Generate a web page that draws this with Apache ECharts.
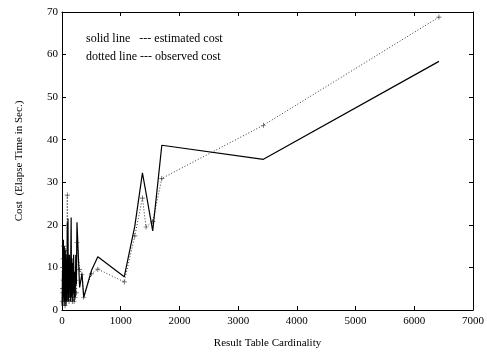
<!DOCTYPE html>
<html>
<head>
<meta charset="utf-8">
<script src="https://cdn.jsdelivr.net/npm/echarts@6/dist/echarts.min.js"></script>
<style>
  html, body { margin: 0; padding: 0; background: #fff; }
  #chart { width: 487px; height: 354px; }
</style>
</head>
<body>
<div id="chart"></div>
<script>
// result table cardinality (x), shared by both series
const cardinality = [
  3, 8, 12, 16, 20, 24, 28, 32, 36, 40, 44, 48, 52, 56, 60, 64, 68, 72, 76, 80,
  85, 90, 96, 102, 108, 114, 120, 126, 132, 138, 144, 150, 156, 162, 168, 175,
  182, 190, 198, 206, 215, 225, 235, 245, 255, 300, 340, 370, 500, 610,
  1060, 1240, 1370, 1431, 1545, 1700, 3430, 6420
];
// estimated cost (solid line)
const estimated = [
  1, 9, 2, 15, 3, 16.5, 4, 12, 1, 15, 5, 11, 2, 14, 6, 13, 1, 10, 3, 12,
  2, 20.5, 4, 21.5, 2, 9, 3, 13, 5, 11, 2, 14, 21.7, 3, 12, 2, 11, 4, 13, 2,
  9, 3, 13, 6, 20.6, 5.3, 8.5, 3.0, 9.2, 12.5,
  7.8, 19.7, 32.2, 27.5, 18.6, 38.7, 35.4, 58.4
];
// observed cost (dotted line)
const observed = [
  2, 5, 10, 4, 12, 7, 15, 3, 9, 13, 6, 11, 1, 14, 4, 10, 2, 8, 5, 12,
  3, 27, 6, 12, 3, 10, 2, 12, 5, 8, 3, 11, 12, 4, 10, 2, 6, 4, 8, 2,
  5, 3, 7, 4, 15.8, 9.5, 8.4, 3.0, 8.5, 9.6,
  6.6, 17.4, 26.3, 19.5, 20.8, 30.9, 43.4, 68.8
];
const xTicks = [0, 1000, 2000, 3000, 4000, 5000, 6000, 7000];
const yTicks = [0, 10, 20, 30, 40, 50, 60, 70];

const font = 'Liberation Serif, Times New Roman, serif';
const chart = echarts.init(document.getElementById('chart'));

const baseX = {
  type: 'value',
  min: xTicks[0],
  max: xTicks[xTicks.length - 1],
  interval: 1000,
  splitLine: { show: false },
  axisLine: { onZero: false, lineStyle: { color: '#000', width: 1 } },
  axisTick: { inside: true, length: 4, lineStyle: { color: '#000' } },
};
const baseY = {
  type: 'value',
  min: yTicks[0],
  max: yTicks[yTicks.length - 1],
  interval: 10,
  splitLine: { show: false },
  axisLine: { onZero: false, lineStyle: { color: '#000', width: 1 } },
  axisTick: { inside: true, length: 4, lineStyle: { color: '#000' } },
};

const option = {
  animation: false,
  backgroundColor: '#fff',
  grid: { left: 62, right: 14, top: 12, bottom: 43 },
  xAxis: [
    Object.assign({}, baseX, {
      position: 'bottom',
      name: 'Result Table Cardinality',
      nameLocation: 'middle',
      nameGap: 28,
      nameTextStyle: { fontFamily: font, fontSize: 11, color: '#000' },
      axisLabel: {
        fontFamily: font, fontSize: 11, color: '#000', margin: 6,
        formatter: (v) => String(v),
      },
    }),
    Object.assign({}, baseX, { position: 'top', axisLabel: { show: false } }),
  ],
  yAxis: [
    Object.assign({}, baseY, {
      position: 'left',
      name: 'Cost  (Elapse Time in Sec.)',
      nameLocation: 'middle',
      nameGap: 37,
      nameTextStyle: { fontFamily: font, fontSize: 11, color: '#000' },
      axisLabel: { fontFamily: font, fontSize: 11, color: '#000', margin: 4 },
    }),
    Object.assign({}, baseY, { position: 'right', axisLabel: { show: false } }),
  ],
  graphic: [
    {
      type: 'text', left: 86, top: 33,
      style: { text: 'solid line   --- estimated cost', font: '12px ' + font, fill: '#000' },
    },
    {
      type: 'text', left: 86, top: 51,
      style: { text: 'dotted line --- observed cost', font: '12px ' + font, fill: '#000' },
    },
  ],
  series: [
    {
      name: 'estimated',
      type: 'line',
      data: cardinality.map((x, i) => [x, estimated[i]]),
      showSymbol: false,
      lineStyle: { color: '#000', width: 1.2, type: 'solid' },
      z: 3,
    },
    {
      name: 'observed',
      type: 'line',
      data: cardinality.map((x, i) => [x, observed[i]]),
      symbol: 'path://M4.3,0H5.7V4.3H10V5.7H5.7V10H4.3V5.7H0V4.3H4.3Z',
      symbolSize: 5,
      itemStyle: { color: '#444' },
      lineStyle: { color: '#333', width: 1, type: [1, 2] },
      z: 2,
    },
  ],
};

chart.setOption(option);
</script>
</body>
</html>
